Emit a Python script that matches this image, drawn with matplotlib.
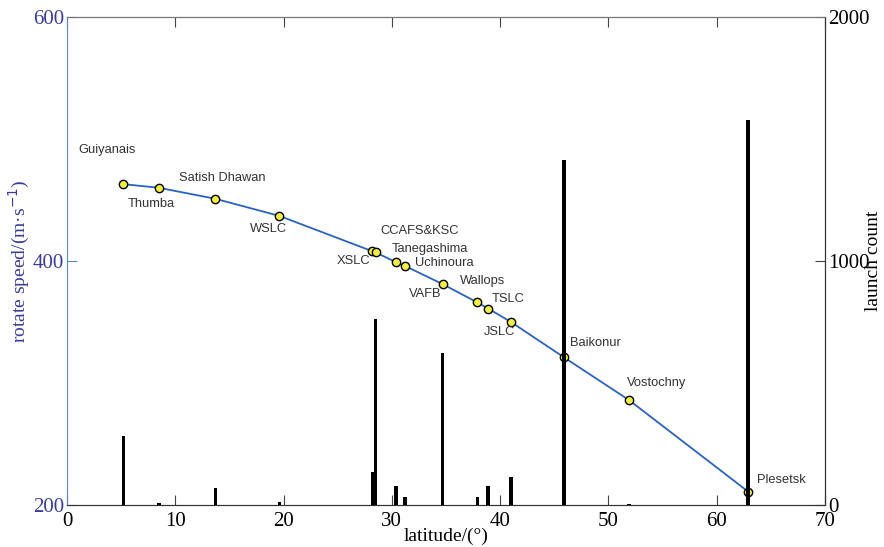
import matplotlib
matplotlib.use("Agg")
import matplotlib.pyplot as plt

# launch sites, latitude (deg), rotate speed (m/s), launch count
sites = ["Guiyanais", "Thumba", "Satish Dhawan", "WSLC", "XSLC", "CCAFS&KSC",
         "Tanegashima", "Uchinoura", "VAFB", "Wallops", "TSLC", "JSLC",
         "Baikonur", "Vostochny", "Plesetsk"]
latitude = [5.2, 8.5, 13.7, 19.6, 28.2, 28.5, 30.4, 31.2, 34.7, 37.9, 38.9,
            41.0, 45.9, 51.9, 62.9]
speed = [463, 460, 451, 437, 408, 407, 399, 396, 381, 366, 361, 350, 321,
         286, 211]
launches = [283, 8, 70, 12, 135, 762, 78, 33, 623, 33, 78, 115, 1414, 4, 1578]

# label offsets in pixels (dx, dy) from each marker
offsets = [(-45, 34), (-31, -16), (-36, 21), (-29, -13), (-36, -10), (5, 21),
           (-5, 13), (10, 3), (-34, -10), (-17, 21), (3, 10), (-27, -10),
           (6, 14), (-2, 17), (9, 12)]

blue_lab = "#3a3a9e"
serif = "Liberation Serif"

fig = plt.figure(figsize=(8.84, 5.47), dpi=100)
ax = fig.add_axes([67 / 884, 1 - 505 / 547, (825 - 67) / 884, (505 - 17) / 547])
ax2 = ax.twinx()

ax.plot(latitude, speed, color="#2a62c4", lw=1.3, marker="o", ms=6,
        mfc="#f2ef3a", mec="black", mew=1.0, zorder=3)
ax2.bar(latitude, launches, width=0.32, color="black", zorder=3)

ax.set_xlim(0, 70)
ax.set_ylim(200, 600)
ax2.set_ylim(0, 2000)
ax.set_xticks(range(0, 71, 10))
ax.set_yticks([200, 400, 600])
ax2.set_yticks([0, 1000, 2000])

ax.tick_params(axis="x", direction="in", length=7, top=True, color="#444444",
               labelsize=15, pad=5)
ax.tick_params(axis="y", direction="in", length=7, colors="#5a86d6",
               labelcolor=blue_lab, labelsize=15, pad=2)
ax2.tick_params(axis="y", direction="in", length=7, color="#444444",
                labelsize=15, pad=2)
for lab in ax.get_xticklabels() + ax.get_yticklabels() + ax2.get_yticklabels():
    lab.set_fontfamily(serif)

for s in ["top", "bottom"]:
    ax.spines[s].set_color("#555555")
ax.spines["left"].set_color("#5a86d6")
ax2.spines["left"].set_visible(False)
ax2.spines["right"].set_color("#333333")
ax2.spines["top"].set_color("#777777")
ax2.spines["bottom"].set_color("#333333")

ax.set_xlabel("latitude/(°)", fontsize=14, fontfamily=serif)
ax.set_ylabel("rotate speed/(m·s$^{-1}$)", fontsize=14, fontfamily=serif,
              color=blue_lab)
ax2.set_ylabel("launch count", fontsize=14, fontfamily=serif)
ax.xaxis.set_label_coords(0.5, -0.047)
ax.yaxis.set_label_coords(-0.046, 0.5)
ax2.yaxis.set_label_coords(1.053, 0.5)

for name, x, y, (dx, dy) in zip(sites, latitude, speed, offsets):
    ax.annotate(name, xy=(x, y), xytext=(dx * 0.72, dy * 0.72),
                textcoords="offset points", ha="left", va="center",
                fontsize=9.3, fontfamily="Liberation Sans", color="#333333",
                zorder=5)

fig.savefig("out.png", dpi=100)
